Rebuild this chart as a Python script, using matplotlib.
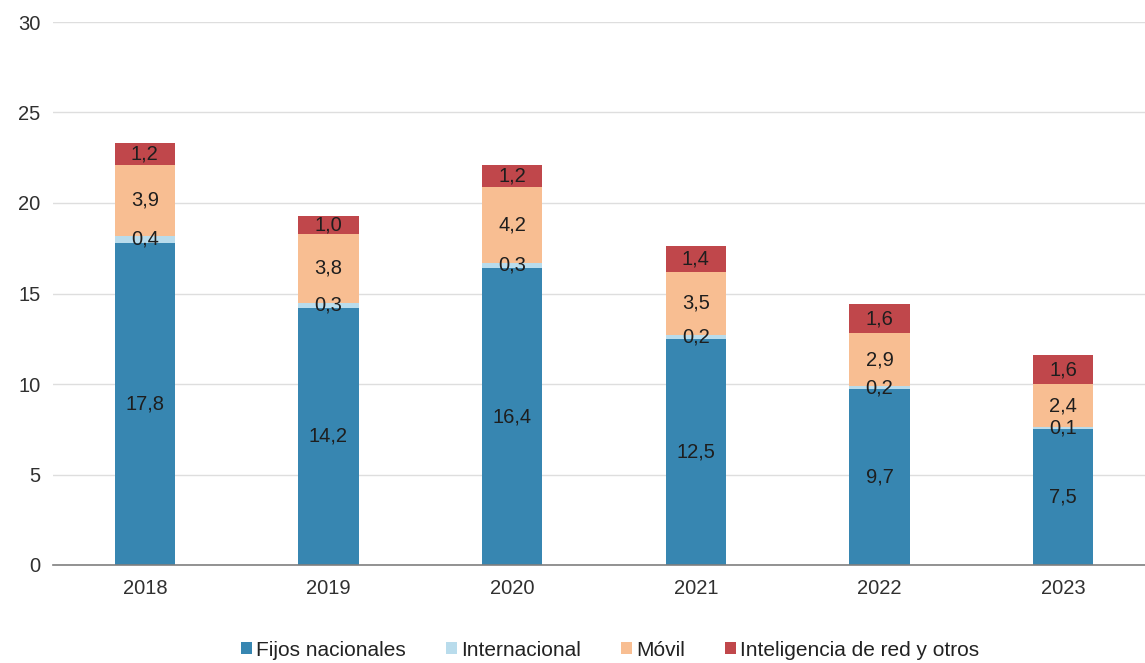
import matplotlib
matplotlib.use("Agg")
import matplotlib.pyplot as plt
import numpy as np

years = ["2018", "2019", "2020", "2021", "2022", "2023"]
fijos = [17.8, 14.2, 16.4, 12.5, 9.7, 7.5]
internacional = [0.4, 0.3, 0.3, 0.2, 0.2, 0.1]
movil = [3.9, 3.8, 4.2, 3.5, 2.9, 2.4]
inteligencia = [1.2, 1.0, 1.2, 1.4, 1.6, 1.6]

series = [
    ("Fijos nacionales", fijos, "#3786b1"),
    ("Internacional", internacional, "#b9dcec"),
    ("Móvil", movil, "#f8be92"),
    ("Inteligencia de red y otros", inteligencia, "#c0474b"),
]

plt.rcParams["font.family"] = ["Liberation Sans", "DejaVu Sans"]
FS = 14.5

W, H = 1145, 663
fig = plt.figure(figsize=(W / 100, H / 100), dpi=100)
ax = fig.add_axes([53 / W, 1 - 565 / H, (1155 - 53) / W, (565 - 22) / H])

x = np.arange(len(years))
bottom = np.zeros(len(years))
handles = []
for name, vals, color in series:
    vals = np.array(vals)
    b = ax.bar(x, vals, 0.33, bottom=bottom, color=color, label=name, zorder=3)
    handles.append(b)
    for xi, v, b0 in zip(x, vals, bottom):
        ax.text(xi, b0 + v / 2, f"{v:.1f}".replace(".", ","), ha="center",
                va="center", fontsize=FS, color="#1e1e1e", zorder=4)
    bottom += vals

ax.set_xlim(-0.5, 5.5)
ax.set_ylim(0, 30)
ax.set_yticks(range(0, 31, 5))
ax.set_xticks(x)
ax.set_xticklabels(years)
ax.grid(axis="y", color="#dedede", linewidth=1, zorder=0)
for s in ["top", "right", "left"]:
    ax.spines[s].set_visible(False)
ax.spines["bottom"].set_color("#7f7f7f")
ax.spines["bottom"].set_linewidth(1.2)
ax.spines["bottom"].set_zorder(5)
ax.tick_params(axis="both", length=0, labelsize=FS, colors="#303030")
ax.tick_params(axis="x", pad=10)
ax.tick_params(axis="y", pad=9)

fig.legend(handles=handles, loc="center", bbox_to_anchor=(610 / W, 1 - 650 / H),
           ncol=4, frameon=False, fontsize=15, handlelength=0.55,
           handleheight=0.55, handletextpad=0.2, columnspacing=1.9,
           labelcolor="#222222")

fig.savefig("out.png", dpi=100)
